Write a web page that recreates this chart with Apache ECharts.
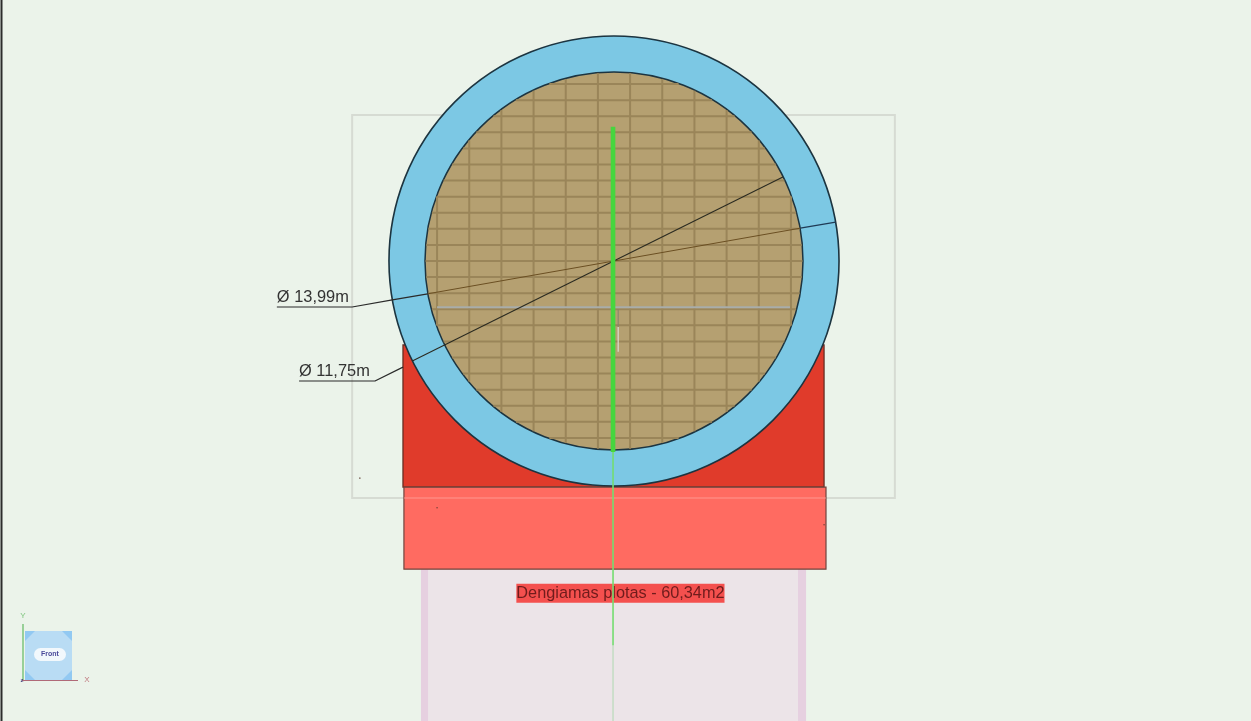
<!DOCTYPE html>
<html><head><meta charset="utf-8">
<style>html,body{margin:0;padding:0;background:#ebf3ea;overflow:hidden}#c{width:1251px;height:721px}</style>
<script src="https://cdn.jsdelivr.net/npm/echarts@6/dist/echarts.min.js"></script>
</head><body><div id="c"></div>
<script>
// All plan values in metres, origin at the centre of the circle.
const viewX = [-19.086, 19.801];
const viewY = [-14.299, 8.113];
const outerDiameter = 13.99;
const innerDiameter = 11.75;
const brickColumns = [-5.5,-4.5,-3.5,-2.5,-1.5,-0.5,0.5,1.5,2.5,3.5,4.5,5.5];
const brickRows = [-5.5,-5,-4.5,-4,-3.5,-3,-2.5,-2,-1.5,-1,-0.5,0,0.5,1,1.5,2,2.5,3,3.5,4,4.5,5,5.5];
const redBlock = [[-6.56,-2.61,6.53,-7.03]];
const pinkSlab = [[-6.53,-7.03,6.59,-9.58]];
const lowerZone = [[-6.0,-9.58,5.97,-14.3]];
const lowerBands = [[-6.0,-9.58,-5.78,-14.3],[5.72,-9.58,5.97,-14.3]];
const outlineBox = [[-8.14,4.54,8.73,-7.37]];
const outlineOnSlab = [[-6.53,-7.37],[6.59,-7.37]];
const line13Inner = [[-5.79,-1.02],[5.79,1.02]];
const line13Ring = [[5.79,1.02],[6.89,1.21]];
const leader13 = [[-5.79,-1.02],[-6.89,-1.21],[-8.14,-1.43],[-10.48,-1.43]];
const line11 = [[5.25,2.61],[-6.27,-3.11]];
const leader11 = [[-6.56,-3.30],[-7.43,-3.73],[-9.79,-3.73]];
const greenThick = [[-0.03,4.17],[-0.03,-5.94]];
const greenThin = [[-0.03,-5.94],[-0.03,-11.95]];
const greenFaint = [[-0.03,-11.95],[-0.03,-14.3]];
const greyRule = [[-5.5,-1.44],[5.47,-1.44]];
const shortDark = [[0.13,-1.5],[0.13,-2.05]];
const shortLight = [[0.13,-2.05],[0.13,-2.82]];
const specks = [[-7.9,-6.75],[-5.5,-7.67],[6.53,-8.2]];
const labels = [
  {text:'Ø 13,99m', at:[-10.48,-1.12]},
  {text:'Ø 11,75m', at:[-9.79,-3.42]}
];
const areaLabel = {text:'Dengiamas plotas - 60,34m2', at:[0.2,-10.33]};

const chart = echarts.init(document.getElementById('c'), null, {renderer:'canvas'});

function rectSeries(data, fill, stroke, lw, z){
  return {type:'custom', coordinateSystem:'cartesian2d', silent:true, z, clip:false, data,
    renderItem(p, api){
      const a = api.coord([api.value(0), api.value(1)]);
      const b = api.coord([api.value(2), api.value(3)]);
      return {type:'rect', shape:{x:a[0], y:a[1], width:b[0]-a[0], height:b[1]-a[1]},
        style:{fill, stroke, lineWidth:lw}};
    }};
}
function circleSeries(d, fill, stroke, lw, z){
  return {type:'custom', coordinateSystem:'cartesian2d', silent:true, z, clip:false, data:[[0,0,d]],
    renderItem(p, api){
      const c = api.coord([api.value(0), api.value(1)]);
      const r = api.size([api.value(2)/2, 0])[0];
      return {type:'circle', shape:{cx:c[0], cy:c[1], r}, style:{fill, stroke, lineWidth:lw}};
    }};
}
function lineSeries(data, color, width, z){
  return {type:'line', data, showSymbol:false, silent:true, z, clip:false, animation:false,
    lineStyle:{color, width, cap:'butt'}};
}
function chordSeries(values, vertical, z){
  const R = innerDiameter/2 - 0.02;
  return {type:'custom', coordinateSystem:'cartesian2d', silent:true, z, clip:false,
    data: values.map(v=>[v]),
    renderItem(p, api){
      const v = api.value(0), h = Math.sqrt(R*R - v*v);
      const a = api.coord(vertical ? [v,-h] : [-h,v]);
      const b = api.coord(vertical ? [v,h] : [h,v]);
      return {type:'line', shape:{x1:a[0], y1:a[1], x2:b[0], y2:b[1]},
        style:{stroke:'#9a8559', lineWidth:2}};
    }};
}
function textSeries(items, style, z){
  return {type:'custom', coordinateSystem:'cartesian2d', silent:true, z, clip:false,
    data: items.map(i=>[i.at[0], i.at[1], i.text]),
    renderItem(p, api){
      const c = api.coord([api.value(0), api.value(1)]);
      return {type:'text', style:Object.assign({text:items[p.dataIndex].text, x:c[0], y:c[1]}, style)};
    }};
}

chart.setOption({
  animation:false,
  backgroundColor:'#ebf3ea',
  grid:{left:0, right:0, top:0, bottom:0, containLabel:false},
  xAxis:{type:'value', min:viewX[0], max:viewX[1], show:false},
  yAxis:{type:'value', min:viewY[0], max:viewY[1], show:false},
  series:[
    rectSeries(outlineBox, 'rgba(0,0,0,0)', '#d6dbd3', 2, 1),
    rectSeries(lowerZone, '#ece4e8', null, 0, 1),
    rectSeries(lowerBands, '#e6d0e0', null, 0, 2),
    rectSeries(redBlock, '#e03b2b', '#5e2a20', 1.2, 3),
    rectSeries(pinkSlab, '#ff6b61', '#70453f', 1.2, 4),
    lineSeries(outlineOnSlab, 'rgba(255,170,160,0.5)', 1.5, 5),
    circleSeries(outerDiameter, '#7cc8e4', '#1c3440', 1.6, 6),
    circleSeries(innerDiameter, '#b5a071', '#1c3440', 1.5, 7),
    chordSeries(brickRows, false, 8),
    chordSeries(brickColumns, true, 8),
    lineSeries(greyRule, '#a9adaa', 2, 9),
    lineSeries(shortDark, '#85836c', 1, 9),
    lineSeries(shortLight, '#dcdccf', 1.2, 9),
    lineSeries(line13Inner, '#6b4f22', 1, 10),
    lineSeries(line13Ring, '#1f3a55', 1.2, 10),
    lineSeries(leader13, '#2a2a2a', 1.2, 10),
    lineSeries(line11, '#2a2a20', 1.1, 10),
    lineSeries(leader11, '#2a2a2a', 1.2, 10),
    {type:'scatter', data:specks, symbolSize:1.6, silent:true, z:12, itemStyle:{color:'#5a3a30'}},
    textSeries(labels, {font:'16.4px "Liberation Sans"', fill:'#333', align:'left', verticalAlign:'middle'}, 13),
    textSeries([areaLabel], {font:'16.3px "Liberation Sans"', fill:'#701c1c', align:'center', verticalAlign:'middle',
      backgroundColor:'#f4504e', padding:[2,0,1,0]}, 13),
    lineSeries(greenThick, '#46d63e', 4.6, 14),
    lineSeries(greenThin, '#74dc70', 1.6, 14),
    lineSeries(greenFaint, '#c0dcc0', 1.4, 14)
  ],
  graphic:[
    {type:'rect', shape:{x:0.5,y:0,width:2,height:721}, style:{fill:'#2c2c2c'}},
    {type:'rect', shape:{x:25,y:631,width:47,height:49}, style:{fill:'#92c9f2'}},
    {type:'polygon', shape:{points:[[35,631],[62,631],[72,641],[72,670],[62,680],[35,680],[25,670],[25,641]]}, style:{fill:'#b9dcf4'}},
    {type:'rect', shape:{x:34,y:648,width:32,height:13,r:6.5}, style:{fill:'#f2f8fc'}},
    {type:'text', style:{text:'Front', x:50, y:654.5, align:'center', verticalAlign:'middle', font:'bold 7px "Liberation Sans"', fill:'#4a4a9a'}},
    {type:'line', shape:{x1:23,y1:624,x2:23,y2:680}, style:{stroke:'#7cc47c', lineWidth:1.5}},
    {type:'line', shape:{x1:22,y1:680.5,x2:78,y2:680.5}, style:{stroke:'#b06a78', lineWidth:1.2}},
    {type:'text', style:{text:'Y', x:23, y:616, align:'center', verticalAlign:'middle', font:'8px "Liberation Sans"', fill:'#7cc47c'}},
    {type:'text', style:{text:'X', x:87, y:680, align:'center', verticalAlign:'middle', font:'8px "Liberation Sans"', fill:'#c07a80'}},
    {type:'text', style:{text:'z', x:22, y:680, align:'center', verticalAlign:'middle', font:'bold 6px "Liberation Sans"', fill:'#4a4a80'}}
  ]
});
</script></body></html>
